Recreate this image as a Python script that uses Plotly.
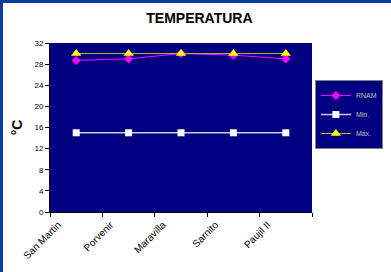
import plotly.graph_objects as go

categories = ["San Martin", "Porvenir", "Maravilla", "Sarnito", "Paujil II"]
rnam = [28.7, 29.0, 30.0, 29.7, 29.0]
vmin = [15, 15, 15, 15, 15]
vmax = [30, 30, 30, 30, 30]
y_ticks = [0, 4, 8, 12, 16, 20, 24, 28, 32]

fig = go.Figure()
fig.add_trace(go.Scatter(x=categories, y=rnam, name="RNAM", mode="lines+markers",
                         line=dict(color="#FF00FF", width=1),
                         marker=dict(symbol="diamond", size=7, color="#FF00FF")))
fig.add_trace(go.Scatter(x=categories, y=vmin, name="Min.", mode="lines+markers",
                         line=dict(color="#C8C8E8", width=1.5),
                         marker=dict(symbol="square", size=7, color="#FFFFFF")))
fig.add_trace(go.Scatter(x=categories, y=vmax, name="Max.", mode="lines+markers",
                         line=dict(color="#B8B840", width=1),
                         marker=dict(symbol="triangle-up", size=9, color="#FFFF00")))

fig.update_layout(
    width=391, height=272,
    margin=dict(l=50, r=79, t=43, b=60, autoexpand=False),
    paper_bgcolor="white", plot_bgcolor="#000080",
    font=dict(family="Liberation Sans, Arial, sans-serif", color="black"),
    title=dict(text="<b>TEMPERATURA</b>", x=0.51, xanchor="center", y=0.935, yanchor="middle",
               font=dict(size=14, color="black")),
    showlegend=True,
    legend=dict(x=1.011, xanchor="left", y=0.781, yanchor="top",
                bgcolor="#000080", bordercolor="#808080", borderwidth=1,
                font=dict(size=7, color="#C0C0C0"), itemwidth=30,
                tracegroupgap=0),
    xaxis=dict(type="category", range=[-0.5, 4.5], showgrid=False,
               showline=True, linecolor="black", linewidth=1,
               ticks="outside", tickson="boundaries", ticklen=4, tickcolor="black",
               tickangle=-45, tickfont=dict(size=10, color="black"),
               ticklabelshift=-18, ticklabelstandoff=2),
    yaxis=dict(range=[0, 32], tickvals=y_ticks, showgrid=False, zeroline=False,
               showline=True, linecolor="black", linewidth=1,
               ticks="outside", ticklen=4, tickcolor="black",
               tickfont=dict(size=8, color="black"),
               title=dict(text="<b>°C</b>", font=dict(size=14, color="black"), standoff=8)),
    shapes=[
        dict(type="rect", xref="paper", yref="paper", x0=-50/262, x1=-50/262 + 3/262,
             y0=-60/169, y1=(169+43)/169, fillcolor="#0A3C9E", line=dict(width=0), layer="above"),
        dict(type="rect", xref="paper", yref="paper", x0=-50/262, x1=(262+79)/262,
             y0=(169+43-3)/169, y1=(169+43)/169, fillcolor="#0A3C9E", line=dict(width=0), layer="above"),
    ],
)

fig.write_html("out.html", config={"displayModeBar": False},
               post_script="document.body.style.margin='0';")
